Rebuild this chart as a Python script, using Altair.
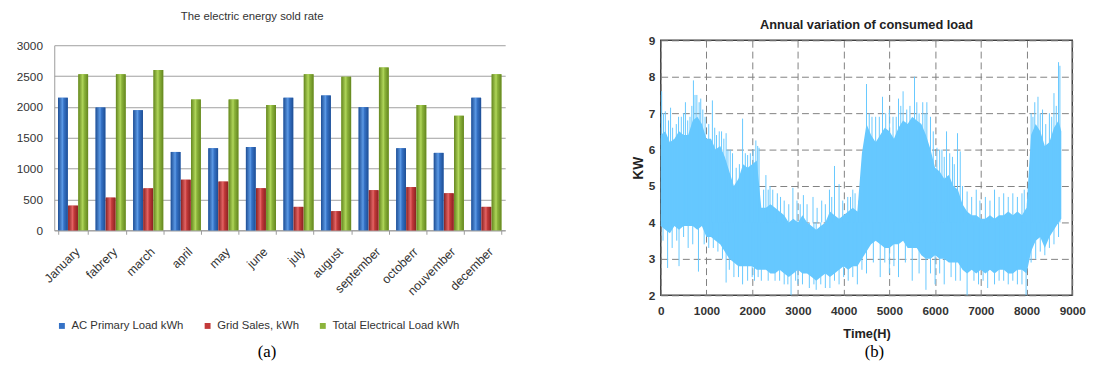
import altair as alt
import pandas as pd

# ---------------- panel (a) data ----------------
months = ["January", "fabrery", "march", "april", "may", "june", "july",
          "august", "september", "octoberr", "nouvember", "december"]
series_names = ["AC Primary Load kWh", "Grid Sales, kWh", "Total Electrical Load kWh"]
ac_primary = [2150, 1990, 1945, 1270, 1330, 1350, 2150, 2185, 1995, 1330, 1255, 2150]
grid_sales = [400, 530, 680, 820, 790, 680, 380, 310, 650, 700, 600, 380]
total_load = [2530, 2530, 2600, 2120, 2120, 2030, 2530, 2490, 2640, 2030, 1855, 2530]
bar_colors = ["#3572C6", "#C33A3A", "#8CB43B"]
bar_edges = ["#1E4E94", "#8A2222", "#64861F"]
bar_highlights = ["#5C9AE6", "#E46464", "#B0D65A"]
y_ticks_a = [0, 500, 1000, 1500, 2000, 2500, 3000]

# ---------------- panel (b) data ----------------
hours = [0, 100, 200, 300, 400, 500, 600, 700, 800, 900,
         1000, 1100, 1200, 1300, 1400, 1500, 1600, 1700, 1800, 1900,
         2000, 2100, 2200, 2300, 2400, 2500, 2600, 2700, 2800, 2900,
         3000, 3100, 3200, 3300, 3400, 3500, 3600, 3700, 3800, 3900,
         4000, 4100, 4200, 4300, 4400, 4500, 4600, 4700, 4800, 4900,
         5000, 5100, 5200, 5300, 5400, 5500, 5600, 5700, 5800, 5900,
         6000, 6100, 6200, 6300, 6400, 6500, 6600, 6700, 6800, 6900,
         7000, 7100, 7200, 7300, 7400, 7500, 7600, 7700, 7800, 7900,
         8000, 8100, 8200, 8300, 8400, 8500, 8600, 8700, 8760]
body_hi = [6.4, 6.5, 6.2, 6.3, 6.5, 6.4, 6.4, 6.8, 6.9, 6.7,
           6.3, 6.3, 6.0, 6.1, 5.8, 5.4, 5.0, 5.2, 5.6, 5.5,
           5.6, 5.7, 4.4, 4.4, 4.5, 4.4, 4.3, 4.2, 4.0, 4.1,
           4.0, 4.2, 4.0, 3.9, 3.8, 3.9, 4.0, 4.3, 4.2, 4.1,
           4.2, 4.3, 4.4, 4.3, 5.9, 6.7, 6.4, 6.2, 6.4, 6.6,
           6.5, 6.3, 6.6, 6.8, 6.7, 6.9, 6.8, 6.7, 6.4, 6.0,
           5.5, 5.4, 5.2, 5.3, 5.0, 4.9, 4.5, 4.3, 4.2, 4.2,
           4.1, 4.1, 4.2, 4.1, 4.2, 4.2, 4.3, 4.2, 4.3, 4.2,
           4.4, 6.4, 6.7, 6.5, 6.1, 6.2, 6.6, 6.8, 6.5]
body_lo = [3.9, 3.8, 3.7, 3.9, 3.8, 3.9, 3.9, 3.9, 3.8, 3.9,
           3.6, 3.6, 3.5, 3.4, 3.2, 3.0, 2.9, 2.8, 2.8, 2.8,
           2.8, 2.7, 2.7, 2.7, 2.6, 2.6, 2.7, 2.6, 2.5, 2.6,
           2.7, 2.6, 2.6, 2.5, 2.4, 2.5, 2.6, 2.5, 2.6, 2.7,
           2.8, 2.7, 2.8, 2.8, 3.0, 3.2, 3.4, 3.5, 3.4, 3.3,
           3.3, 3.4, 3.4, 3.5, 3.3, 3.3, 3.3, 3.1, 3.0, 3.0,
           3.1, 3.0, 3.0, 2.9, 2.9, 2.9, 2.7, 2.6, 2.7, 2.6,
           2.7, 2.6, 2.7, 2.6, 2.7, 2.7, 2.6, 2.6, 2.7, 2.7,
           2.6, 3.2, 3.5, 3.6, 3.3, 3.6, 3.8, 4.0, 4.1]

peak_hours = [20, 100, 215, 340, 450, 540, 640, 715, 790, 875, 970, 1130, 1220,
              1330, 1430, 1520, 1720, 1790, 1900, 2080, 2150, 2300, 2390, 2620,
              2890, 3120, 3330, 3520, 3690, 3800, 3900, 4090, 4200, 4330, 4450,
              4500, 4560, 4700, 4850, 5000, 5200, 5300, 5380, 5550, 5650, 5730,
              5820, 5900, 6040, 6150, 6250, 6380, 6490, 6550, 6700, 6900, 7100,
              7300, 7500, 7700, 7900, 8100, 8180, 8250, 8350, 8500, 8600, 8700, 8730,
              60, 170, 260, 390, 500, 590, 680, 750, 840, 920, 1050, 1180, 1280,
              1380, 1470, 1570, 1650, 1850, 1960, 2020, 2120, 2250, 2350, 2450,
              2550, 2700, 2800, 2980, 3050, 3200, 3420, 3600, 3740, 3980, 4150,
              4250, 4380, 4620, 4780, 4920, 5080, 5150, 5250, 5450, 5600, 5780,
              5960, 6100, 6200, 6320, 6420, 6600, 6800, 6980, 7200, 7400, 7600,
              7800, 7950, 8140, 8300, 8420, 8550, 8650]
peak_values = [7.6, 7.05, 7.15, 6.7, 6.9, 7.3, 6.9, 7.9, 7.5, 7.4, 6.9, 7.35, 6.4,
               6.5, 6.45, 6.0, 5.6, 6.85, 5.85, 6.25, 6.05, 5.3, 5.0, 4.7,
               4.95, 4.75, 4.7, 4.6, 4.9, 5.55, 5.05, 4.7, 4.9, 4.6, 5.8,
               7.8, 7.0, 6.9, 7.45, 7.1, 7.4, 7.6, 7.1, 8.0, 7.0, 7.3,
               7.3, 6.9, 6.05, 6.0, 6.5, 5.8, 6.45, 5.95, 4.85, 4.9, 4.7,
               4.9, 4.8, 4.8, 4.8, 7.0, 7.3, 7.45, 7.1, 7.0, 7.55, 8.4, 8.3,
               7.0, 6.8, 6.6, 6.9, 7.0, 6.8, 7.2, 7.5, 7.3, 7.1, 6.7, 6.6, 6.5,
               6.3, 6.0, 5.9, 5.5, 5.9, 5.9, 6.0, 6.1, 4.9, 4.9, 4.9,
               4.8, 4.6, 4.5, 4.6, 4.5, 4.5, 4.4, 4.5, 4.7, 4.6, 4.7,
               4.8, 4.8, 6.9, 6.9, 7.0, 6.9, 6.9, 7.2, 7.2, 7.3, 7.0,
               6.5, 6.0, 5.8, 5.9, 5.6, 5.0, 4.7, 4.6, 4.6, 4.7, 4.7,
               4.7, 4.9, 6.9, 7.0, 6.7, 6.9, 7.2]
dip_hours = [150, 400, 600, 825, 1050, 1250, 1430, 1600, 1790, 1900, 2050, 2200,
             2500, 2700, 2850, 3000, 3250, 3400, 3600, 3700, 3900, 4100, 4300,
             4500, 4800, 5000, 5200, 5500, 5800, 6000, 6200, 6450, 6700, 6950,
             7150, 7400, 7600, 7800, 7990, 8200, 8400, 8600,
             50, 250, 350, 500, 700, 950, 1150, 1350, 1500, 1700, 2000, 2130,
             2350, 2600, 2780, 2950, 3100, 3350, 3500, 3800, 4000, 4200, 4400,
             4650, 4900, 5100, 5350, 5650, 5900, 6100, 6350, 6550, 6850, 7050,
             7300, 7500, 7700, 7900, 8100, 8300, 8500, 8700]
dip_values = [2.75, 2.8, 3.3, 2.65, 3.3, 3.2, 2.35, 2.5, 2.3, 2.4, 2.4, 2.4,
              2.4, 2.3, 2.0, 2.3, 2.2, 2.15, 2.2, 2.2, 2.3, 2.4, 2.3,
              2.6, 2.5, 2.6, 2.5, 2.4, 2.15, 2.3, 2.3, 2.4, 2.0, 2.3,
              2.2, 2.4, 2.3, 2.3, 2.0, 3.0, 3.1, 3.4,
              3.5, 3.3, 3.5, 3.6, 3.4, 3.4, 3.3, 3.0, 2.7, 2.5, 2.5, 2.5,
              2.4, 2.4, 2.3, 2.4, 2.3, 2.3, 2.3, 2.4, 2.5, 2.5, 2.7,
              2.9, 2.9, 2.8, 2.9, 2.6, 2.6, 2.6, 2.5, 2.4, 2.4, 2.4,
              2.3, 2.4, 2.4, 2.3, 2.9, 3.2, 3.3, 3.6]
BODY_MID = 4.0
x_ticks_b = [0, 1000, 2000, 3000, 4000, 5000, 6000, 7000, 8000, 9000]
y_ticks_b = [2, 3, 4, 5, 6, 7, 8, 9]
LINE_COLOR = "#66C8FF"

# ---------------- panel (a) ----------------
bar_df = pd.DataFrame({
    "month": months * 3,
    "series": [s for s in series_names for _ in months],
    "value": ac_primary + grid_sales + total_load,
})

A_W = 458
A_H = 193

xa = alt.X("month:N", sort=months,
           scale=alt.Scale(paddingInner=0.2, paddingOuter=0.1),
           axis=alt.Axis(title=None, labelAngle=-45, labelFontSize=12.5,
                         labelColor="#333333", labelPadding=11,
                         domainColor="#9a9a9a", tickColor="#9a9a9a",
                         tickSize=4, tickBand="extent"))
xoa = alt.XOffset("series:N", sort=series_names,
                  scale=alt.Scale(domain=series_names, paddingInner=0.04))
ya = alt.Y("value:Q",
           scale=alt.Scale(domain=[0, 3000], range=[A_H, 5], nice=False),
           axis=alt.Axis(title=None, values=y_ticks_a, format="d", labelFontSize=12,
                         labelColor="#333333", labelPadding=12, ticks=False,
                         domainColor="#9a9a9a", gridColor="#a0a0a0"))

base_a = alt.Chart(bar_df).encode(x=xa, xOffset=xoa, y=ya)

legend_bars = base_a.mark_bar().encode(
    color=alt.Color("series:N", sort=series_names,
                    scale=alt.Scale(domain=series_names, range=bar_colors),
                    legend=alt.Legend(title=None, orient="none", direction="horizontal",
                                      legendX=2, legendY=284, symbolType="square",
                                      symbolSize=36, labelFontSize=11.5,
                                      labelColor="#333333", columnPadding=18,
                                      symbolStrokeWidth=0)),
)

grad_layers = []
for s, edge, mid, hi in zip(series_names, bar_edges, bar_colors, bar_highlights):
    grad = alt.LinearGradient(
        gradient="linear", x1=0, x2=1, y1=0, y2=0,
        stops=[alt.GradientStop(offset=0, color=edge),
               alt.GradientStop(offset=0.45, color=hi),
               alt.GradientStop(offset=0.6, color=mid),
               alt.GradientStop(offset=1, color=edge)])
    grad_layers.append(
        base_a.transform_filter(alt.datum.series == s).mark_bar(color=grad)
    )

cap_a = alt.Chart(pd.DataFrame({"t": ["(a)"]})).mark_text(
    font="Liberation Serif", fontSize=17, color="#000000"
).encode(x=alt.value(216), y=alt.value(317), text="t:N")

panel_a = alt.layer(legend_bars, *grad_layers, cap_a).properties(
    width=A_W, height=A_H,
    title=alt.TitleParams("The electric energy  sold rate", fontSize=11.5,
                          fontWeight="normal", color="#333333", offset=17, dx=-28),
)

# ---------------- panel (b) ----------------
body_df = pd.DataFrame({"hour": hours, "hi": body_hi, "lo": body_lo})
peak_df = pd.DataFrame({"hour": peak_hours, "top": peak_values,
                        "base": [BODY_MID] * len(peak_hours)})
dip_df = pd.DataFrame({"hour": dip_hours, "top": dip_values,
                       "base": [BODY_MID] * len(dip_hours)})

B_W = 418
B_H = 259

xb_axis = alt.Axis(title="Time(H)", values=x_ticks_b, format="d", labelFlush=False,
                   labelFontSize=12, labelFontWeight="bold", labelColor="#333333",
                   labelPadding=11, ticks=False, domain=False,
                   gridColor="#808080", gridDash=[7, 4], gridWidth=1,
                   titleFontSize=13, titleFontWeight="bold", titleColor="#222222",
                   titlePadding=11)
yb_axis = alt.Axis(title="KW", values=y_ticks_b, format="d", labelFontSize=12,
                   labelFontWeight="bold", labelColor="#333333", labelPadding=6,
                   ticks=False, domain=False, gridColor="#808080", labelOverlap=False,
                   gridDash=[7, 4], gridWidth=1, titleFontSize=14,
                   titleFontWeight="bold", titleColor="#222222", titlePadding=3)
xb_scale = alt.Scale(domain=[0, 9000], nice=False)
yb_scale = alt.Scale(domain=[2, 9], nice=False)

area = alt.Chart(body_df).mark_area(color=LINE_COLOR, opacity=1).encode(
    x=alt.X("hour:Q", scale=xb_scale, axis=xb_axis),
    y=alt.Y("hi:Q", scale=yb_scale, axis=yb_axis),
    y2="lo:Q",
)
peaks = alt.Chart(peak_df).mark_rule(color=LINE_COLOR, strokeWidth=1).encode(
    x=alt.X("hour:Q", scale=xb_scale, axis=xb_axis),
    y=alt.Y("top:Q", scale=yb_scale, axis=yb_axis),
    y2="base:Q")
dips = alt.Chart(dip_df).mark_rule(color=LINE_COLOR, strokeWidth=1).encode(
    x=alt.X("hour:Q", scale=xb_scale, axis=xb_axis),
    y=alt.Y("top:Q", scale=yb_scale, axis=yb_axis),
    y2="base:Q")

cap_b = alt.Chart(pd.DataFrame({"t": ["(b)"]})).mark_text(
    font="Liberation Serif", fontSize=17, color="#000000"
).encode(x=alt.value(217), y=alt.value(317), text="t:N")

panel_b = alt.layer(area, peaks, dips, cap_b).properties(
    width=B_W, height=B_H,
    view=alt.ViewBackground(stroke="#404040", strokeWidth=1.5),
    title=alt.TitleParams("Annual variation of consumed load", fontSize=13,
                          fontWeight="bold", color="#222222", offset=2),
)

chart = alt.hconcat(panel_a, panel_b, spacing=158, bounds="flush").properties(
    padding={"left": 8, "top": 0, "right": 2, "bottom": 2}
).configure(font="Liberation Sans").configure_view(strokeWidth=0)

chart.save("out.html", embed_options={"renderer": "svg", "actions": False})
